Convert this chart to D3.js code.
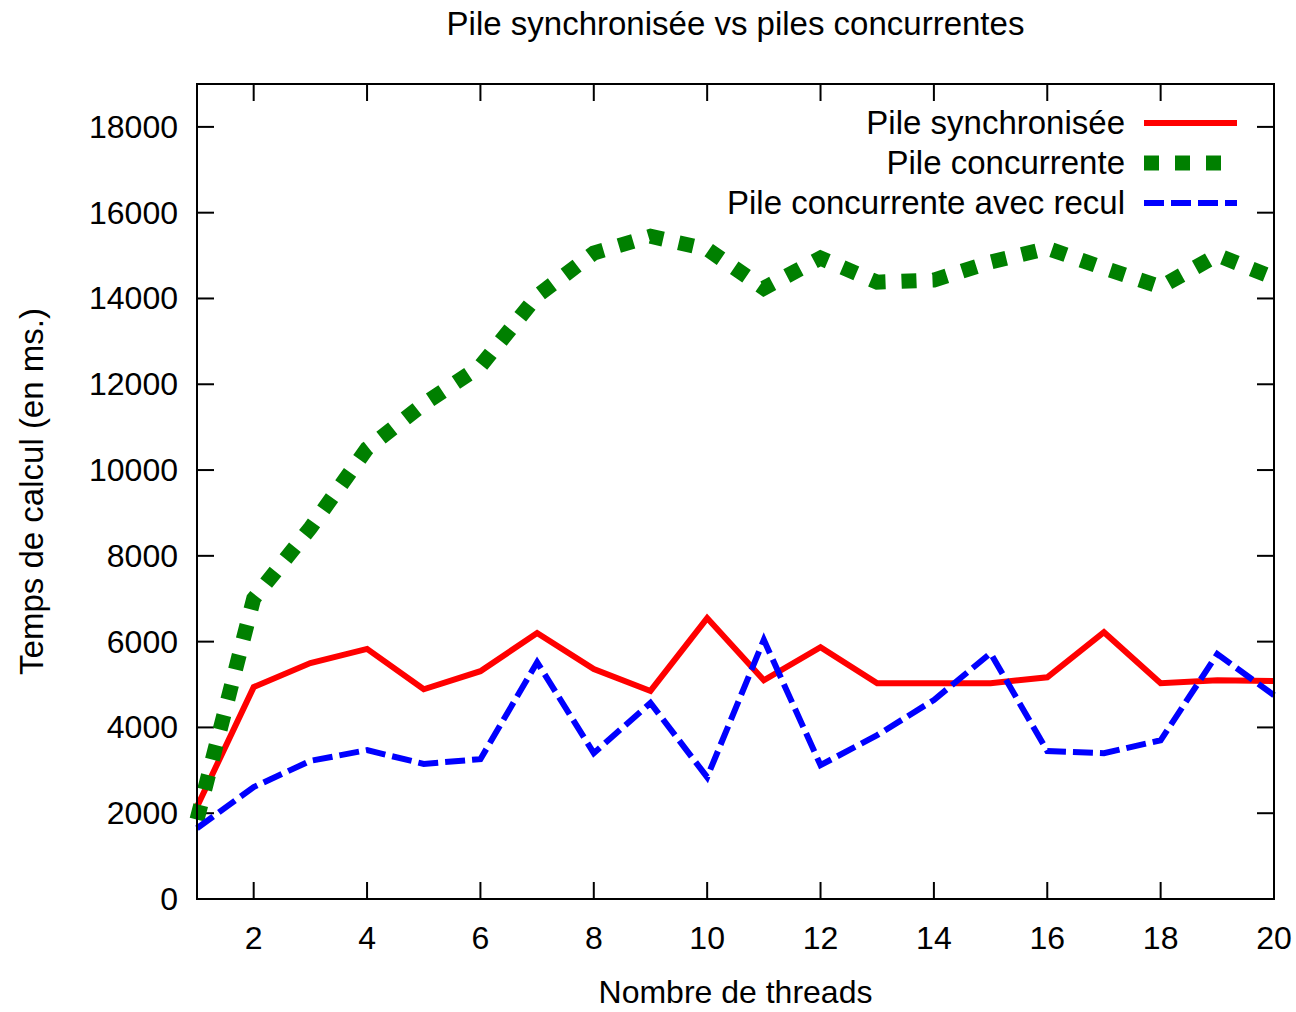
<!DOCTYPE html>
<html lang="fr">
<head>
  <meta charset="UTF-8">
  <title>Pile synchronisée vs piles concurrentes</title>
  <style>
    body { margin: 0; background: #fff; }
    svg text { font-family: "Liberation Sans", Arial, sans-serif; fill: #000; }
  </style>
</head>
<body>
<svg width="1296" height="1012" id="viz"></svg>
<script src="https://cdn.jsdelivr.net/npm/d3@7"></script>
<script>
/* global d3 */

// data
let threads = d3.range(1, 21);
let pileSync = [2150, 4940, 5500, 5830, 4890, 5310, 6200, 5360, 4850, 6550,
  5100, 5870, 5030, 5030, 5030, 5170, 6220, 5030, 5100, 5080];
let pileConc = [1850, 7000, 8650, 10500, 11540, 12420, 14060, 15060, 15450, 15150,
  14240, 14940, 14380, 14430, 14850, 15170, 14710, 14270, 15010, 14480];
let pileRecul = [1650, 2610, 3220, 3470, 3150, 3260, 5520, 3400, 4570, 2840,
  6040, 3120, 3820, 4640, 5730, 3450, 3400, 3700, 5710, 4750];
let xTicks = [2, 4, 6, 8, 10, 12, 14, 16, 18, 20];
let yTicks = [0, 2000, 4000, 6000, 8000, 10000, 12000, 14000, 16000, 18000];

let series = [
  {name: "Pile synchronisée", values: pileSync, color: "#ff0000", width: 6, dash: null},
  {name: "Pile concurrente", values: pileConc, color: "#008000", width: 15, dash: "15,16"},
  {name: "Pile concurrente avec recul", values: pileRecul, color: "#0000ff", width: 6, dash: "20,7"}
];

let svg = d3.select("#viz"),
  pLeft = 197, pRight = 1274, pTop = 84, pBottom = 899;

let x = d3.scaleLinear().domain([1, 20]).range([pLeft, pRight]);
let y = d3.scaleLinear().domain([0, 19000]).range([pBottom, pTop]);

// ticks (inside, mirrored)
let tickLen = 17;
let axes = svg.append("g").attr("stroke", "#000").attr("stroke-width", 2);
xTicks.forEach(t => {
  axes.append("line").attr("x1", x(t)).attr("x2", x(t)).attr("y1", pBottom).attr("y2", pBottom - tickLen);
  axes.append("line").attr("x1", x(t)).attr("x2", x(t)).attr("y1", pTop).attr("y2", pTop + tickLen);
});
yTicks.forEach(t => {
  axes.append("line").attr("x1", pLeft).attr("x2", pLeft + tickLen).attr("y1", y(t)).attr("y2", y(t));
  axes.append("line").attr("x1", pRight).attr("x2", pRight - tickLen).attr("y1", y(t)).attr("y2", y(t));
});

svg.append("g").selectAll("text")
  .data(xTicks).enter().append("text")
  .attr("x", d => x(d)).attr("y", 949)
  .attr("text-anchor", "middle").attr("font-size", 32)
  .text(d => d);

svg.append("g").selectAll("text")
  .data(yTicks).enter().append("text")
  .attr("x", 178).attr("y", d => y(d) + 11)
  .attr("text-anchor", "end").attr("font-size", 32)
  .text(d => d);

// lines
let line = d3.line()
  .x((d, i) => x(threads[i]))
  .y(d => y(d));

svg.append("g").selectAll("path")
  .data(series).enter().append("path")
  .attr("d", d => line(d.values))
  .attr("fill", "none")
  .attr("stroke", d => d.color)
  .attr("stroke-width", d => d.width)
  .attr("stroke-dasharray", d => d.dash)
  .attr("stroke-linejoin", "miter");

// frame
svg.append("rect")
  .attr("x", pLeft).attr("y", pTop)
  .attr("width", pRight - pLeft).attr("height", pBottom - pTop)
  .attr("fill", "none").attr("stroke", "#000").attr("stroke-width", 2);

// legend
let legend = svg.append("g").selectAll("g")
  .data(series).enter().append("g")
  .attr("transform", (d, i) => "translate(0," + (123 + i * 40) + ")");

legend.append("text")
  .attr("x", 1125).attr("y", 11)
  .attr("text-anchor", "end").attr("font-size", 33)
  .text(d => d.name);

legend.append("line")
  .attr("x1", 1144).attr("x2", 1237)
  .attr("stroke", d => d.color)
  .attr("stroke-width", d => d.width)
  .attr("stroke-dasharray", d => d.dash);

// titles
svg.append("text")
  .attr("x", (pLeft + pRight) / 2).attr("y", 35)
  .attr("text-anchor", "middle").attr("font-size", 33)
  .text("Pile synchronisée vs piles concurrentes");

svg.append("text")
  .attr("x", (pLeft + pRight) / 2).attr("y", 1003)
  .attr("text-anchor", "middle").attr("font-size", 32)
  .text("Nombre de threads");

svg.append("text")
  .attr("transform", "translate(43," + (pTop + pBottom) / 2 + ") rotate(-90)")
  .attr("text-anchor", "middle").attr("font-size", 33)
  .text("Temps de calcul (en ms.)");
</script>
</body>
</html>
